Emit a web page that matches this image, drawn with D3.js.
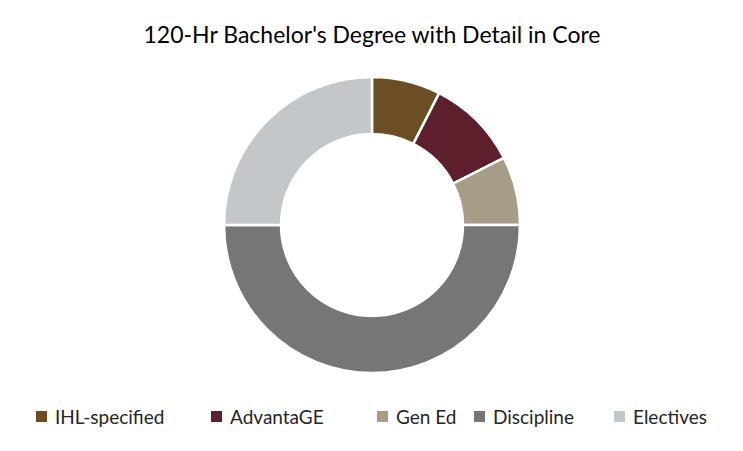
<!DOCTYPE html><html><head><script src="https://cdn.jsdelivr.net/npm/d3@7"></script>
<style>body{margin:0;background:#fff}</style></head><body><svg id="c" width="743" height="451"></svg>
<script>
const categories=["IHL-specified","AdvantaGE","Gen Ed","Discipline","Electives"];
const values=[9,12,9,60,30];
const colors=["#6B4E24","#5C1F2B","#A59D87","#767676","#C4C7C9"];
const title="120-Hr  Bachelor's Degree with Detail in Core";
const svg=d3.select("#c");
const font="Lato, 'Open Sans', sans-serif";
svg.append("text").attr("x",372).attr("y",43).attr("text-anchor","middle").attr("font-family",font).attr("font-size",23).attr("fill","#000").text(title);
const pie=d3.pie().sort(null)(values);
const arc=d3.arc().innerRadius(91).outerRadius(148);
svg.append("g").attr("transform","translate(372,225)").selectAll("path").data(pie).join("path")
 .attr("d",arc).attr("fill",(d,i)=>colors[i]).attr("stroke","#fff").attr("stroke-width",2.5);
const lx=[36,211,377,474,614];
const lg=svg.append("g");
categories.forEach((c,i)=>{
 lg.append("rect").attr("x",lx[i]).attr("y",411).attr("width",11).attr("height",11).attr("fill",colors[i]);
 lg.append("text").attr("x",lx[i]+19).attr("y",424).attr("font-family",font).attr("font-size",19).attr("fill","#262626").text(c);
});
</script></body></html>
